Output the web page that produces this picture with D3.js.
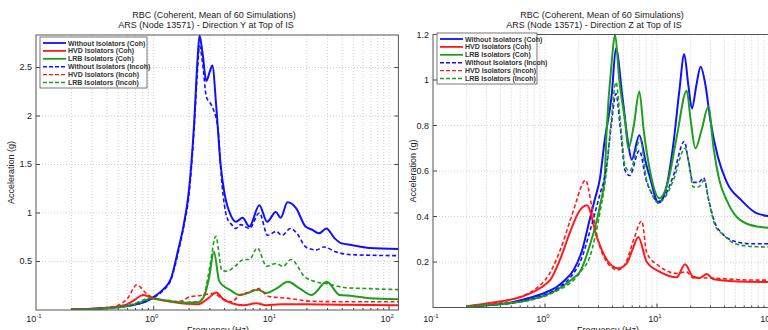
<!DOCTYPE html>
<html>
<head>
<meta charset="utf-8">
<script src="https://cdnjs.cloudflare.com/ajax/libs/d3/7.8.5/d3.min.js"></script>
<style>
  body { margin: 0; background: #fff; }
  svg { display: block; font-family: "Liberation Sans", Arial, sans-serif; }
</style>
</head>
<body>
<svg id="chart" width="768" height="330"></svg>
<script>
// ---- text ----
const titleTop = "RBC (Coherent, Mean of 60 Simulations)";
const titleY = "ARS (Node 13571) - Direction Y at Top of IS";
const titleZ = "ARS (Node 13571) - Direction Z at Top of IS";
const legendLabels = [
  "Without Isolators (Coh)", "HVD Isolators (Coh)", "LRB Isolators (Coh)",
  "Without Isolators (Incoh)", "HVD Isolators (Incoh)", "LRB Isolators (Incoh)"
];
const xDecades = [0.1, 1, 10, 100];
const xDecadeExp = ["-1", "0", "1", "2"];
const yTicksY = [0.5, 1, 1.5, 2, 2.5];
const yTicksZ = [0.2, 0.4, 0.6, 0.8, 1, 1.2];

// ---- data: [frequency Hz, acceleration g] ----
// Direction Y
const yWithoutCoh = [[0.2,0.005],[0.3,0.012],[0.4,0.02],[0.5,0.03],[0.6,0.042],[0.7,0.057],[0.8,0.075],[0.9,0.1],[1.0,0.135],[1.2,0.21],[1.4,0.32],[1.6,0.6],[1.8,0.88],[2.0,1.25],[2.2,1.9],[2.35,2.55],[2.45,2.83],[2.6,2.65],[2.8,2.36],[3.0,2.46],[3.15,2.52],[3.4,2.1],[3.7,1.5],[4.0,1.2],[4.5,0.98],[5.0,0.91],[5.7,0.95],[6.5,0.86],[7.9,1.08],[9.2,0.91],[10.9,1.01],[12,0.95],[13.7,1.11],[16.2,1.05],[19.5,0.86],[22,0.83],[25.4,0.79],[29.3,0.84],[34.4,0.74],[39,0.69],[48,0.67],[68,0.64],[120,0.63]];
const yHvdCoh = [[0.2,0.005],[0.3,0.012],[0.4,0.022],[0.5,0.035],[0.6,0.06],[0.7,0.11],[0.81,0.155],[0.95,0.13],[1.2,0.1],[1.5,0.08],[1.9,0.065],[2.4,0.06],[2.9,0.12],[3.4,0.18],[3.9,0.11],[4.6,0.07],[5.8,0.05],[7.5,0.07],[9,0.05],[12,0.06],[20,0.06],[40,0.055],[120,0.05]];
const yLrbCoh = [[0.2,0.004],[0.3,0.01],[0.4,0.017],[0.5,0.027],[0.6,0.04],[0.7,0.06],[0.8,0.085],[0.9,0.11],[1.0,0.115],[1.2,0.1],[1.5,0.085],[1.9,0.075],[2.4,0.08],[2.7,0.15],[2.95,0.33],[3.25,0.6],[3.6,0.3],[4.0,0.24],[4.4,0.21],[5.4,0.155],[6.3,0.175],[7.7,0.21],[9.1,0.175],[11,0.22],[13.8,0.29],[17.5,0.22],[22,0.155],[29.5,0.29],[38,0.155],[49,0.145],[68,0.12],[120,0.11]];
const yWithoutIncoh = [[0.2,0.005],[0.3,0.012],[0.4,0.02],[0.5,0.03],[0.6,0.042],[0.7,0.057],[0.8,0.075],[0.9,0.1],[1.0,0.13],[1.2,0.2],[1.4,0.31],[1.6,0.57],[1.8,0.86],[2.0,1.2],[2.2,1.85],[2.35,2.45],[2.45,2.72],[2.6,2.55],[2.8,2.2],[3.1,2.11],[3.5,1.89],[3.8,1.3],[4.2,0.95],[4.6,0.88],[5.0,0.84],[5.5,0.88],[6.5,0.84],[7.9,1.0],[9.3,0.77],[11,0.81],[12.3,0.77],[14.5,0.84],[16.5,0.79],[19.6,0.65],[24,0.62],[28,0.65],[35,0.6],[49,0.57],[120,0.56]];
const yHvdIncoh = [[0.2,0.005],[0.3,0.012],[0.4,0.025],[0.5,0.05],[0.6,0.12],[0.72,0.26],[0.85,0.18],[1.0,0.12],[1.2,0.1],[1.5,0.085],[1.8,0.1],[2.0,0.135],[2.5,0.15],[3.2,0.17],[3.8,0.12],[4.6,0.085],[5.4,0.155],[6.3,0.18],[7.7,0.22],[9.5,0.14],[14,0.12],[22,0.09],[40,0.085],[120,0.085]];
const yLrbIncoh = [[0.2,0.004],[0.3,0.01],[0.4,0.018],[0.5,0.03],[0.6,0.045],[0.7,0.07],[0.8,0.1],[0.9,0.12],[1.0,0.12],[1.2,0.105],[1.5,0.09],[1.9,0.08],[2.4,0.085],[2.7,0.17],[3.0,0.45],[3.37,0.76],[3.8,0.41],[4.2,0.4],[5.0,0.46],[5.8,0.52],[6.5,0.52],[7.6,0.64],[9.1,0.45],[11,0.48],[12.5,0.45],[14.7,0.52],[19.3,0.34],[24,0.29],[30,0.27],[43,0.23],[68,0.22],[120,0.21]];

// Direction Z
const zWithoutCoh = [[0.2,0.005],[0.3,0.01],[0.5,0.022],[0.64,0.035],[1.0,0.065],[1.27,0.09],[1.5,0.12],[1.8,0.165],[2.14,0.25],[2.5,0.385],[2.8,0.48],[3.1,0.57],[3.4,0.73],[3.94,0.935],[4.3,1.14],[4.9,0.93],[5.55,0.716],[5.94,0.65],[6.95,0.757],[8,0.63],[8.66,0.57],[10.3,0.46],[12,0.52],[14,0.72],[15.8,0.95],[17.5,1.113],[19,0.98],[20.5,0.875],[22.5,0.98],[24.5,1.058],[27,0.98],[30,0.82],[35,0.66],[42,0.55],[57,0.47],[78,0.414],[125,0.395]];
const zHvdCoh = [[0.2,0.006],[0.32,0.02],[0.64,0.05],[1.0,0.1],[1.11,0.12],[1.36,0.21],[1.67,0.33],[2.0,0.42],[2.37,0.45],[2.9,0.31],[3.56,0.21],[4.5,0.172],[5.36,0.194],[6.1,0.26],[6.8,0.31],[8.1,0.2],[10.6,0.157],[15,0.133],[17.8,0.19],[21,0.135],[24,0.13],[27.8,0.147],[31.8,0.124],[63,0.113],[125,0.112]];
const zLrbCoh = [[0.2,0.005],[0.3,0.01],[0.5,0.02],[0.7,0.032],[1.0,0.053],[1.3,0.08],[1.6,0.11],[1.8,0.13],[2.05,0.157],[2.5,0.27],[3.1,0.45],[3.4,0.57],[3.56,0.79],[3.94,1.08],[4.22,1.2],[4.6,1.0],[5.18,0.82],[5.55,0.7],[6.2,0.8],[6.95,0.95],[7.6,0.78],[8.66,0.6],[10.5,0.48],[12.5,0.55],[15,0.75],[18.4,0.953],[20,0.82],[22,0.7],[25,0.78],[28.7,0.883],[32,0.7],[36,0.56],[42,0.47],[55,0.385],[80,0.355],[125,0.348]];
const zWithoutIncoh = [[0.2,0.005],[0.3,0.01],[0.5,0.02],[0.7,0.033],[1.0,0.055],[1.3,0.085],[1.6,0.12],[1.8,0.15],[2.1,0.21],[2.5,0.33],[3.1,0.5],[3.5,0.6],[3.9,0.8],[4.3,0.94],[4.7,0.79],[5.2,0.6],[5.7,0.58],[6.95,0.69],[8,0.56],[9,0.5],[10.2,0.465],[12,0.5],[14,0.58],[17.5,0.73],[19,0.65],[21,0.55],[23.5,0.55],[26,0.57],[29,0.47],[33,0.37],[38,0.326],[50,0.29],[70,0.28],[125,0.28]];
const zHvdIncoh = [[0.2,0.006],[0.5,0.035],[1.0,0.12],[1.36,0.25],[1.67,0.38],[1.86,0.45],[2.1,0.53],[2.3,0.56],[2.6,0.45],[2.9,0.32],[3.56,0.2],[4.5,0.165],[5.3,0.2],[6.2,0.3],[7.3,0.38],[8.1,0.24],[10.6,0.18],[15,0.15],[18.3,0.157],[21,0.13],[27,0.13],[63,0.121],[125,0.12]];
const zLrbIncoh = [[0.2,0.005],[0.3,0.01],[0.5,0.019],[0.7,0.03],[1.0,0.05],[1.3,0.075],[1.6,0.1],[1.8,0.12],[2.1,0.16],[2.5,0.22],[3.1,0.42],[3.5,0.58],[3.9,0.82],[4.3,0.99],[4.7,0.82],[5.2,0.62],[5.7,0.6],[7.1,0.74],[8,0.57],[9,0.5],[10.2,0.46],[12,0.49],[14,0.56],[17.8,0.7],[19.5,0.62],[21,0.53],[23.5,0.53],[26.5,0.56],[29,0.47],[33,0.36],[39,0.32],[50,0.28],[70,0.268],[125,0.265]];

// ---- styles ----
const colors = ["#1010ff", "#ff1a1a", "#1e9e1e"];
const styleOf = i => ({ color: colors[i % 3], dashed: i >= 3 });

const svg = d3.select("#chart");

function drawPanel(p) {
  const x = d3.scaleLog().domain(p.xDomain).range([p.left, p.right]);
  const y = d3.scaleLinear().domain(p.yDomain).range([p.bottom, p.top]);
  const g = svg.append("g");

  const clipId = "clip" + p.id;
  svg.append("clipPath").attr("id", clipId)
    .append("rect").attr("x", p.left).attr("y", p.top - 2)
    .attr("width", p.right - p.left).attr("height", p.bottom - p.top + 2);

  // grid: all log minor lines
  const gridX = [];
  xDecades.forEach(d => { for (let k = 1; k <= 9; k++) gridX.push(d * k); });
  g.selectAll(".gx").data(gridX.filter(v => v > p.xDomain[0] && v < p.xDomain[1]))
    .enter().append("line")
    .attr("x1", d => x(d)).attr("x2", d => x(d))
    .attr("y1", p.top).attr("y2", p.bottom)
    .attr("stroke", "#c4c4c4").attr("stroke-width", 0.8).attr("stroke-dasharray", "1,2");
  g.selectAll(".gy").data(p.yTicks)
    .enter().append("line")
    .attr("x1", p.left).attr("x2", p.right)
    .attr("y1", d => y(d)).attr("y2", d => y(d))
    .attr("stroke", "#c4c4c4").attr("stroke-width", 0.8).attr("stroke-dasharray", "1,2");

  // ticks
  g.selectAll(".ty").data(p.yTicks).enter().append("line")
    .attr("x1", p.left).attr("x2", p.left + 4)
    .attr("y1", d => y(d)).attr("y2", d => y(d))
    .attr("stroke", "#444");
  g.selectAll(".tyr").data(p.yTicks).enter().append("line")
    .attr("x1", p.right - 4).attr("x2", p.right)
    .attr("y1", d => y(d)).attr("y2", d => y(d))
    .attr("stroke", "#444");
  g.selectAll(".tx").data(gridX.filter(v => v > p.xDomain[0] && v < p.xDomain[1]))
    .enter().append("line")
    .attr("x1", d => x(d)).attr("x2", d => x(d))
    .attr("y1", p.bottom).attr("y2", d => p.bottom - (xDecades.includes(d) ? 4 : 2))
    .attr("stroke", "#444");

  // y labels
  g.selectAll(".yl").data(p.yTicks).enter().append("text")
    .attr("x", p.left - 4).attr("y", d => y(d) + 3)
    .attr("text-anchor", "end").attr("font-size", 9).attr("fill", "#222")
    .text(d => d);

  // x labels 10^n
  xDecades.forEach((d, i) => {
    if (d < p.xDomain[0] || d > p.xDomain[1]) return;
    const t = g.append("text").attr("x", x(d) - 2).attr("y", 322)
      .attr("text-anchor", "middle").attr("font-size", 9).attr("fill", "#222");
    t.append("tspan").text("10");
    t.append("tspan").attr("dy", -4).attr("font-size", 6).text(xDecadeExp[i]);
  });

  // curves
  const line = d3.line().curve(d3.curveMonotoneX)
    .x(d => x(d[0])).y(d => y(d[1]));
  const lines = svg.append("g").attr("clip-path", `url(#${clipId})`);
  p.series.forEach((s, i) => {
    const st = styleOf(i);
    lines.append("path").datum(s)
      .attr("d", line).attr("fill", "none")
      .attr("stroke", st.color)
      .attr("stroke-width", st.dashed ? 1.6 : 2)
      .attr("stroke-dasharray", st.dashed ? "4,2.5" : null);
  });

  // frame
  svg.append("rect").attr("x", p.left).attr("y", p.top)
    .attr("width", p.right - p.left).attr("height", p.bottom - p.top)
    .attr("fill", "none").attr("stroke", "#555").attr("stroke-width", 1);

  // titles
  svg.append("text").attr("x", p.titleX).attr("y", 18).attr("text-anchor", "middle")
    .attr("font-size", 9).attr("fill", "#222").text(titleTop);
  svg.append("text").attr("x", p.titleX - 8).attr("y", 28).attr("text-anchor", "middle")
    .attr("font-size", 9).attr("fill", "#222").text(p.subtitle);
  svg.append("text")
    .attr("transform", `translate(${p.yLabelX},${(p.top + p.bottom) / 2}) rotate(-90)`)
    .attr("text-anchor", "middle").attr("font-size", 9).attr("fill", "#222")
    .text("Acceleration (g)");
  svg.append("text").attr("x", p.xLabelX).attr("y", 333).attr("text-anchor", "middle")
    .attr("font-size", 9).attr("fill", "#222").text("Frequency (Hz)");

  // legend
  const lg = svg.append("g").attr("transform", `translate(${p.legX},${p.legY})`);
  lg.append("rect").attr("width", p.legW).attr("height", 51)
    .attr("fill", "#fff").attr("stroke", "#555").attr("stroke-width", 0.8);
  legendLabels.forEach((lab, i) => {
    const st = styleOf(i);
    const yy = 6 + i * 7.9;
    lg.append("line").attr("x1", 3).attr("x2", 26).attr("y1", yy).attr("y2", yy)
      .attr("stroke", st.color).attr("stroke-width", st.dashed ? 1.4 : 1.8)
      .attr("stroke-dasharray", st.dashed ? "4,2" : null);
    lg.append("text").attr("x", 28).attr("y", yy + 2.5)
      .attr("font-size", 7).attr("font-weight", "bold").attr("fill", "#333").text(lab);
  });
}

drawPanel({
  id: "Y", left: 36, right: 398.4, top: 35, bottom: 310,
  xDomain: [0.1, 120], yDomain: [0, 2.835], yTicks: yTicksY,
  series: [yWithoutCoh, yHvdCoh, yLrbCoh, yWithoutIncoh, yHvdIncoh, yLrbIncoh],
  titleX: 214, subtitle: titleY, yLabelX: 14, xLabelX: 218,
  legX: 40, legY: 37, legW: 107
});
drawPanel({
  id: "Z", left: 433, right: 779.9, top: 34.5, bottom: 307.5,
  xDomain: [0.1, 125], yDomain: [0, 1.2], yTicks: yTicksZ,
  series: [zWithoutCoh, zHvdCoh, zLrbCoh, zWithoutIncoh, zHvdIncoh, zLrbIncoh],
  titleX: 602, subtitle: titleZ, yLabelX: 416, xLabelX: 608,
  legX: 437, legY: 33, legW: 100
});
</script>
</body>
</html>
